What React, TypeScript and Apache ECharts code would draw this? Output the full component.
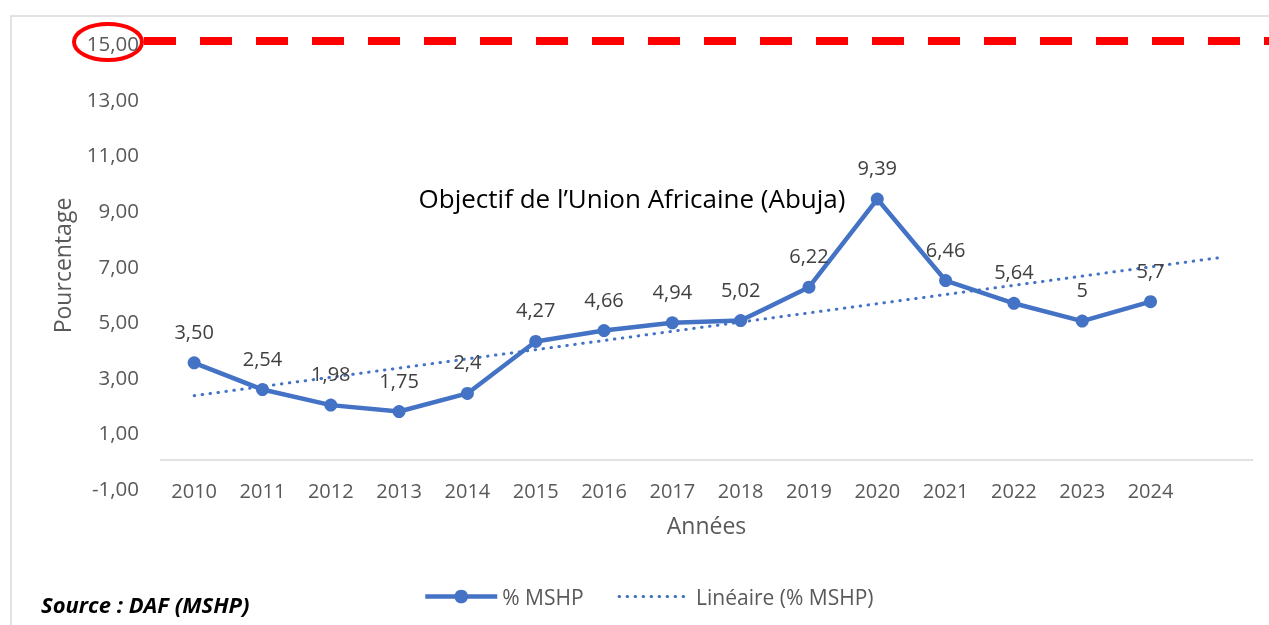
import React, { useEffect, useRef } from "react";
import * as echarts from "echarts";

const years = ["2010", "2011", "2012", "2013", "2014", "2015", "2016", "2017", "2018", "2019", "2020", "2021", "2022", "2023", "2024", ""];
const mshp = [3.5, 2.54, 1.98, 1.75, 2.4, 4.27, 4.66, 4.94, 5.02, 6.22, 9.39, 6.46, 5.64, 5, 5.7];
const mshpLabels = ["3,50", "2,54", "1,98", "1,75", "2,4", "4,27", "4,66", "4,94", "5,02", "6,22", "9,39", "6,46", "5,64", "5", "5,7"];
// linear trendline end points (first year, one period forecast)
const trend = [2.32, null, null, null, null, null, null, null, null, null, null, null, null, null, null, 7.28];
const target = 15;
const yTicks = { min: -1, max: 15, interval: 2 };

const FONT = "'Open Sans', sans-serif";
const BLUE = "#4472C4";

export default function App() {
  const ref = useRef<HTMLDivElement>(null);
  useEffect(() => {
    const chart = echarts.init(ref.current!, null, { renderer: "svg" });
    chart.setOption({
      animation: false,
      textStyle: { fontFamily: FONT },
      grid: { left: 160, right: 16, top: 43, bottom: 137, containLabel: false },
      xAxis: {
        type: "category",
        data: years,
        boundaryGap: true,
        axisLine: { show: false, onZero: false },
        axisTick: { show: false },
        axisLabel: { color: "#595959", fontSize: 20, fontFamily: FONT, verticalAlign: "middle", margin: 2 },
        name: "Années",
        nameLocation: "middle",
        nameGap: 25,
        nameTextStyle: { color: "#595959", fontSize: 23, fontFamily: FONT },
      },
      yAxis: {
        type: "value",
        min: yTicks.min,
        max: yTicks.max,
        interval: yTicks.interval,
        splitLine: { show: false },
        axisLine: { show: false },
        axisTick: { show: false },
        axisLabel: {
          color: "#595959",
          fontSize: 20.5,
          fontFamily: FONT,
          margin: 21,
          formatter: (v: number) => v.toFixed(2).replace(".", ","),
        },
        name: "Pourcentage",
        nameLocation: "middle",
        nameGap: 87,
        nameTextStyle: { color: "#595959", fontSize: 23, fontFamily: FONT },
      },
      legend: {
        left: 418,
        top: 581,
        itemWidth: 72,
        itemHeight: 17,
        itemGap: 34,
        textStyle: { color: "#595959", fontSize: 21, fontFamily: FONT },
        data: [
          { name: "% MSHP", lineStyle: { width: 4.5 } },
          { name: "Linéaire (% MSHP)", itemStyle: { opacity: 0, color: "transparent" }, lineStyle: { width: 3 } },
        ],
      },
      series: [
        {
          name: "% MSHP",
          type: "line",
          data: mshp,
          symbol: "circle",
          symbolSize: 13,
          itemStyle: { color: BLUE },
          lineStyle: { color: BLUE, width: 4.5 },
          z: 3,
          label: {
            show: true,
            position: "top",
            distance: 15,
            color: "#404040",
            fontSize: 20,
            fontFamily: FONT,
            formatter: (p: any) => mshpLabels[p.dataIndex],
          },
          markLine: {
            silent: true,
            symbol: "none",
            label: { show: false },
            lineStyle: { color: "#d9d9d9", width: 1.5, type: "solid" },
            data: [{ yAxis: 0 }],
          },
        },
        {
          name: "Linéaire (% MSHP)",
          type: "line",
          data: trend,
          connectNulls: true,
          symbol: "none",
          itemStyle: { color: BLUE },
          lineStyle: { color: BLUE, width: 3, type: [0.5, 7.5], cap: "round" },
          z: 2,
        },
      ],
    });
    const yT = chart.convertToPixel({ yAxisIndex: 0 }, target) as number;
    chart.setOption({
      graphic: [
        {
          type: "rect",
          shape: { x: 11, y: 16, width: 1400, height: 800 },
          style: { fill: "none", stroke: "#d9d9d9", lineWidth: 1.5 },
          silent: true,
        },
        {
          type: "line",
          shape: { x1: 144, y1: yT - 2, x2: 1269, y2: yT - 2 },
          style: { stroke: "#ff0000", lineWidth: 8, lineDash: [32, 24] },
          silent: true,
        },
        {
          type: "ellipse",
          shape: { cx: 108, cy: yT - 1, rx: 34, ry: 18 },
          style: { fill: "none", stroke: "#ff0000", lineWidth: 4 },
          silent: true,
        },
        {
          type: "text",
          x: 632,
          y: 198,
          style: {
            text: "Objectif de l’Union Africaine (Abuja)",
            fill: "#000000",
            fontSize: 26,
            fontFamily: FONT,
            align: "center",
            verticalAlign: "middle",
          },
        },
        {
          type: "text",
          x: 41,
          y: 604,
          style: {
            text: "Source : DAF (MSHP)",
            fill: "#000000",
            fontSize: 22,
            fontFamily: FONT,
            fontWeight: "bold",
            fontStyle: "italic",
            align: "left",
            verticalAlign: "middle",
          },
        },
      ],
    });
    return () => chart.dispose();
  }, []);
  return <div ref={ref} style={{ position: "fixed", left: 0, top: 0, width: 1269, height: 625 }} />;
}
